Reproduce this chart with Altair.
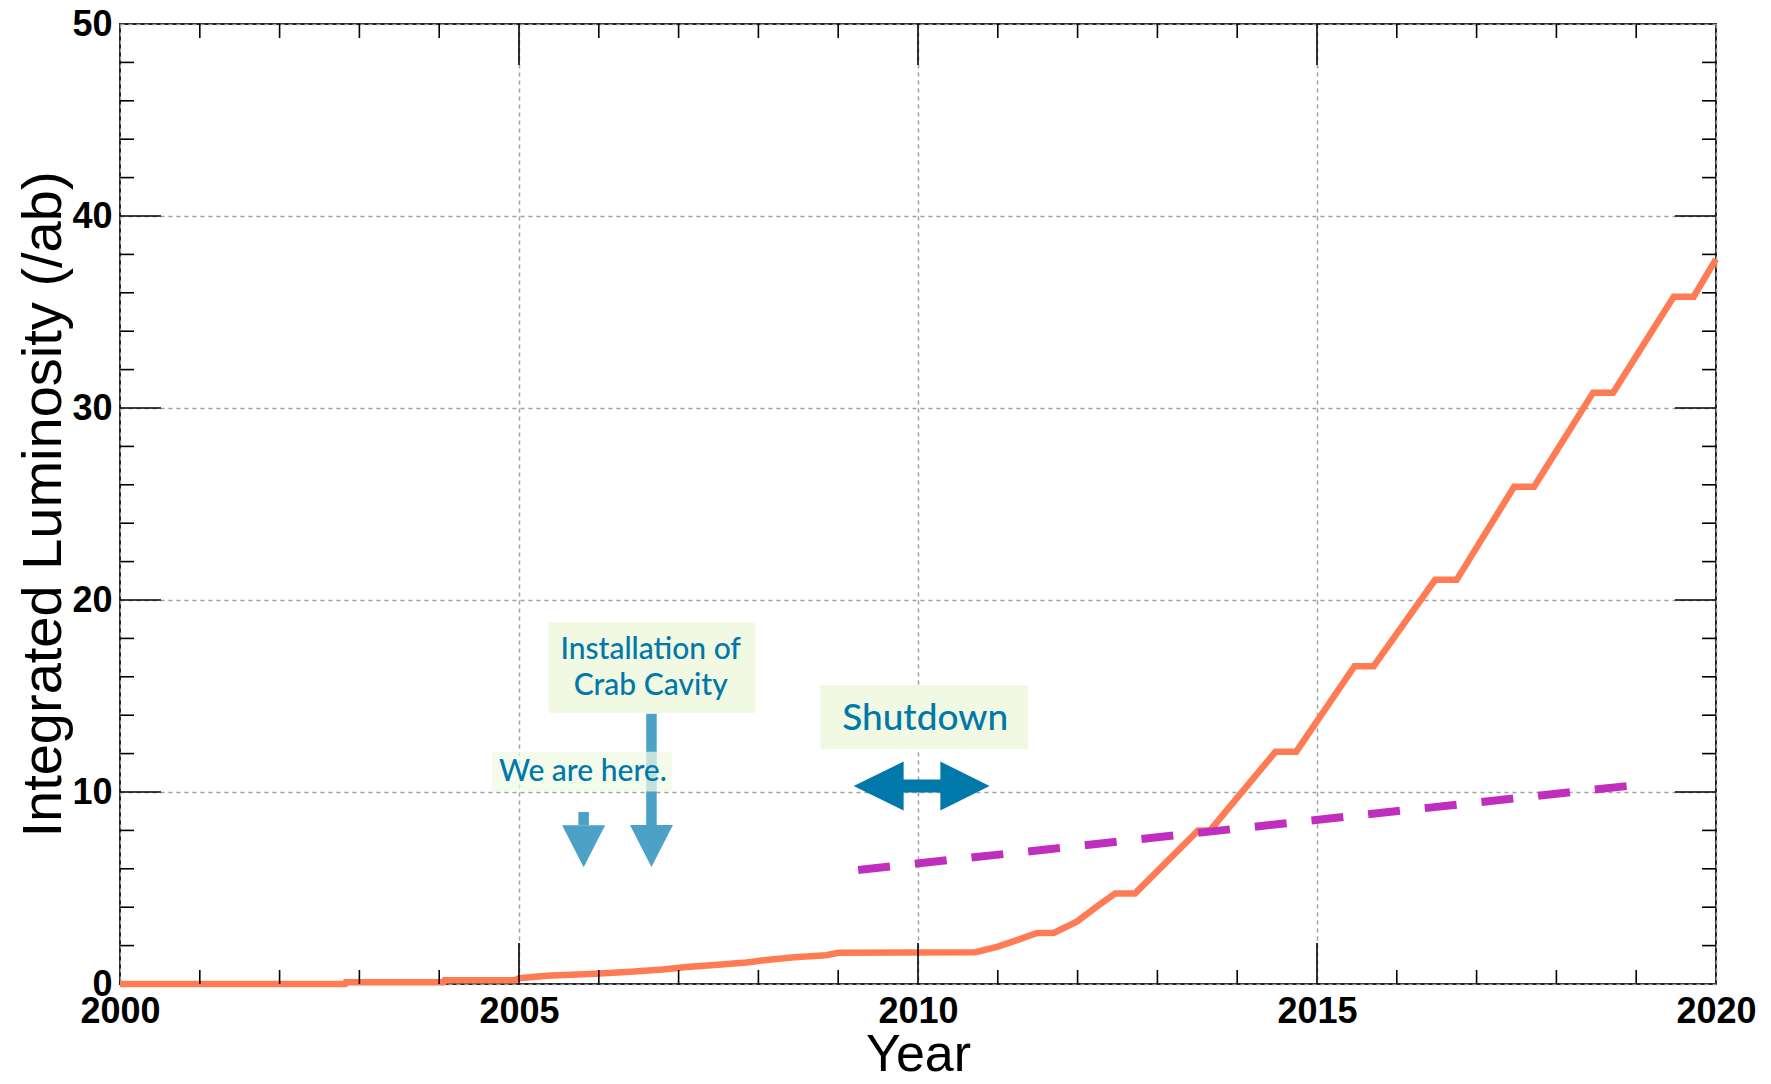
import altair as alt
import pandas as pd

# ---------------- data ----------------
# Projected integrated luminosity (orange curve)
lum_year = [2000.0, 2002.82, 2002.83, 2004.06, 2004.07, 2004.95, 2005.0, 2005.35, 2005.95,
            2006.4, 2006.8, 2007.1, 2007.45, 2007.85, 2008.1, 2008.45, 2008.85, 2009.0,
            2010.72, 2011.0, 2011.25, 2011.49, 2011.70, 2011.99, 2012.24, 2012.47, 2012.72,
            2013.51, 2013.66, 2014.48, 2014.74, 2015.47, 2015.71, 2016.48, 2016.75,
            2017.47, 2017.72, 2018.46, 2018.71, 2019.47, 2019.72, 2020.0]
lum_value = [0.0, 0.0, 0.09, 0.09, 0.19, 0.19, 0.30, 0.43, 0.54,
             0.64, 0.76, 0.88, 0.99, 1.12, 1.25, 1.39, 1.50, 1.63,
             1.66, 1.95, 2.30, 2.66, 2.66, 3.25, 4.03, 4.72, 4.72,
             8.00, 8.00, 12.10, 12.10, 16.55, 16.55, 21.05, 21.05,
             25.90, 25.90, 30.80, 30.80, 35.80, 35.80, 37.75]

# Dashed magenta line
trend_year = [2009.25, 2018.93]
trend_value = [5.94, 10.33]

# Axes
x_labels = [2000, 2005, 2010, 2015, 2020]
y_labels = [0, 10, 20, 30, 40, 50]
x_major_ticks = [2005, 2010, 2015]
x_minor_ticks = [2001, 2002, 2003, 2004, 2006, 2007, 2008, 2009, 2011, 2012, 2013, 2014,
                 2016, 2017, 2018, 2019]
y_major_ticks = [10, 20, 30, 40]
y_minor_ticks = [2, 4, 6, 8, 12, 14, 16, 18, 22, 24, 26, 28, 32, 34, 36, 38, 42, 44, 46, 48]

# Annotation boxes (year range, luminosity range)
box_name = ["crab", "here", "shutdown"]
box_x1 = [2005.37, 2004.66, 2008.78]
box_x2 = [2007.96, 2006.92, 2011.38]
box_y1 = [14.13, 10.02, 12.24]
box_y2 = [18.84, 12.10, 15.57]

# Annotation texts
note_text = ["Installation of", "Crab Cavity", "We are here.", "Shutdown"]
note_year = [2006.65, 2006.65, 2005.80, 2010.09]
note_value = [16.91, 15.05, 10.57, 13.23]
note_size = [30, 30, 30, 37]

# Down arrows (stems + heads)
arrow_year = [2005.81, 2006.66]
arrow_top = [8.96, 14.08]
arrow_base = [8.27, 8.28]

# Shutdown double arrow
shut_left = 2009.80
shut_right = 2010.30
shut_value = 10.31
shut_head_left = 2009.82
shut_head_right = 2010.28

# ---------------- styling ----------------
W, H = 1596, 960
ORANGE = "#FF7B54"
MAGENTA = "#C02EBE"
LIGHT_BLUE = "#4BA1C6"
DARK_TEAL = "#0078AA"
BOX = "#F1F9E2"
TEXT_FONT = "Lato"

xscale = alt.Scale(domain=[2000, 2020], nice=False, zero=False)
yscale = alt.Scale(domain=[0, 50], nice=False, zero=False)

AXIS_STYLE = dict(
    labelFont="Liberation Sans", labelFontWeight="bold", labelFontSize=36, labelColor="black",
    titleFont="Liberation Sans", titleFontWeight="normal", titleColor="black",
    ticks=False, tickSize=0, domain=False,
    grid=True, gridColor="#a0a0a0", gridDash=[4, 4], gridWidth=1.5,
    labelFlush=False, labelOverlap=False, format="d",
)

xaxis = alt.Axis(values=x_labels, title="Year", labelPadding=10,
                 titleFontSize=52, titleX=W / 2, titleY=86, titleBaseline="alphabetic",
                 titleAlign="center", **AXIS_STYLE)
yaxis = alt.Axis(values=y_labels, title="Integrated Luminosity (/ab)",
                 labelPadding=8, titleFontSize=56,
                 titleAngle=270, titleX=-60, titleY=H / 2, titleBaseline="alphabetic",
                 titleAlign="center", **AXIS_STYLE)


def X(field):
    return alt.X(field, type="quantitative", scale=xscale, axis=xaxis)


def Y(field):
    return alt.Y(field, type="quantitative", scale=yscale, axis=yaxis)


lum_df = pd.DataFrame({"x": lum_year, "y": lum_value})
trend_df = pd.DataFrame({"x": trend_year, "y": trend_value})
box_df = pd.DataFrame({"name": box_name, "x": box_x1, "x2": box_x2, "y": box_y1, "y2": box_y2})
note_df = pd.DataFrame({"text": note_text, "x": note_year, "y": note_value, "size": note_size})
arrow_df = pd.DataFrame({"x": arrow_year, "y": arrow_top, "y2": arrow_base})
shut_stem_df = pd.DataFrame({"x": [shut_left], "x2": [shut_right], "y": [shut_value]})
shut_left_df = pd.DataFrame({"x": [shut_head_left], "y": [shut_value]})
shut_right_df = pd.DataFrame({"x": [shut_head_right], "y": [shut_value]})
xmaj_df = pd.DataFrame({"x": x_major_ticks})
xmin_df = pd.DataFrame({"x": x_minor_ticks})
ymaj_df = pd.DataFrame({"y": y_major_ticks})
ymin_df = pd.DataFrame({"y": y_minor_ticks})

lum_line = alt.Chart(lum_df).mark_line(color=ORANGE, strokeWidth=6.5, strokeJoin="miter").encode(
    x=X("x"), y=Y("y"))

trend_line = alt.Chart(trend_df).mark_line(color=MAGENTA, strokeWidth=8, strokeDash=[32, 25],
                                           strokeCap="butt").encode(x=X("x"), y=Y("y"))

crab_box = alt.Chart(box_df).transform_filter(alt.datum.name == "crab").mark_rect(
    color=BOX, opacity=1).encode(x=X("x"), x2="x2", y=Y("y"), y2="y2")
other_box = alt.Chart(box_df).transform_filter(alt.datum.name == "shutdown").mark_rect(
    color=BOX, opacity=1).encode(x=X("x"), x2="x2", y=Y("y"), y2="y2")
here_box = alt.Chart(box_df).transform_filter(alt.datum.name == "here").mark_rect(
    color=BOX, opacity=0.72).encode(x=X("x"), x2="x2", y=Y("y"), y2="y2")

stems = alt.Chart(arrow_df).mark_rule(color=LIGHT_BLUE, strokeWidth=10.5, strokeCap="butt").encode(
    x=X("x"), y=Y("y"), y2="y2")
heads = alt.Chart(arrow_df).mark_point(shape="M-1,0L1,0L0,1.95Z", size=1849, filled=True,
                                       color=LIGHT_BLUE, opacity=1, strokeWidth=0).encode(
    x=X("x"), y=Y("y2"))

notes = alt.Chart(note_df).mark_text(font=TEXT_FONT, fontWeight=500, color=DARK_TEAL, align="center",
                                     baseline="alphabetic").encode(
    x=X("x"), y=Y("y"), text="text:N", size=alt.Size("size:Q", scale=None, legend=None))

shut_stem = alt.Chart(shut_stem_df).mark_rule(color=DARK_TEAL, strokeWidth=13, strokeCap="butt").encode(
    x=X("x"), x2="x2", y=Y("y"))
shut_lhead = alt.Chart(shut_left_df).mark_point(shape="M0,-1L0,1L-2.04,0Z", size=2401, filled=True,
                                                color=DARK_TEAL, opacity=1, strokeWidth=0).encode(
    x=X("x"), y=Y("y"))
shut_rhead = alt.Chart(shut_right_df).mark_point(shape="M0,-1L0,1L2.01,0Z", size=2401, filled=True,
                                                 color=DARK_TEAL, opacity=1, strokeWidth=0).encode(
    x=X("x"), y=Y("y"))

TICK = dict(color="black", strokeWidth=1.6)
MAJ, MIN = 41, 14
xmaj_b = alt.Chart(xmaj_df).mark_rule(**TICK).encode(x=X("x"), y=alt.value(H), y2=alt.value(H - MAJ))
xmaj_t = alt.Chart(xmaj_df).mark_rule(**TICK).encode(x=X("x"), y=alt.value(0), y2=alt.value(MAJ))
xmin_b = alt.Chart(xmin_df).mark_rule(**TICK).encode(x=X("x"), y=alt.value(H), y2=alt.value(H - MIN))
xmin_t = alt.Chart(xmin_df).mark_rule(**TICK).encode(x=X("x"), y=alt.value(0), y2=alt.value(MIN))
ymaj_l = alt.Chart(ymaj_df).mark_rule(**TICK).encode(y=Y("y"), x=alt.value(0), x2=alt.value(MAJ))
ymaj_r = alt.Chart(ymaj_df).mark_rule(**TICK).encode(y=Y("y"), x=alt.value(W), x2=alt.value(W - MAJ))
ymin_l = alt.Chart(ymin_df).mark_rule(**TICK).encode(y=Y("y"), x=alt.value(0), x2=alt.value(MIN))
ymin_r = alt.Chart(ymin_df).mark_rule(**TICK).encode(y=Y("y"), x=alt.value(W), x2=alt.value(W - MIN))

chart = alt.layer(
    lum_line, trend_line, crab_box, other_box, stems, heads, here_box, notes,
    shut_stem, shut_lhead, shut_rhead,
    xmaj_b, xmaj_t, xmin_b, xmin_t, ymaj_l, ymaj_r, ymin_l, ymin_r,
).properties(
    width=W, height=H,
    background="white",
    title=alt.TitleParams("Projection of KEKB Luminosity", font="Liberation Sans", fontSize=52,
                          fontWeight="bold", color="black", anchor="middle",
                          baseline="alphabetic", offset=1.5),
    autosize=alt.AutoSizeParams(type="none"),
    padding={"left": 112, "top": 16, "right": 40, "bottom": 88},
).configure_view(
    stroke="#222222", strokeWidth=2
).configure_axis(
    labelFont="Liberation Sans", labelFontWeight="bold", labelFontSize=36, labelColor="black",
    titleFont="Liberation Sans", titleFontWeight="normal", titleColor="black",
    ticks=False, tickSize=0, domain=False,
    grid=True, gridColor="#a0a0a0", gridDash=[4, 4], gridWidth=1.5,
)

chart.save("out.html", embed_options={"renderer": "svg", "actions": False})
